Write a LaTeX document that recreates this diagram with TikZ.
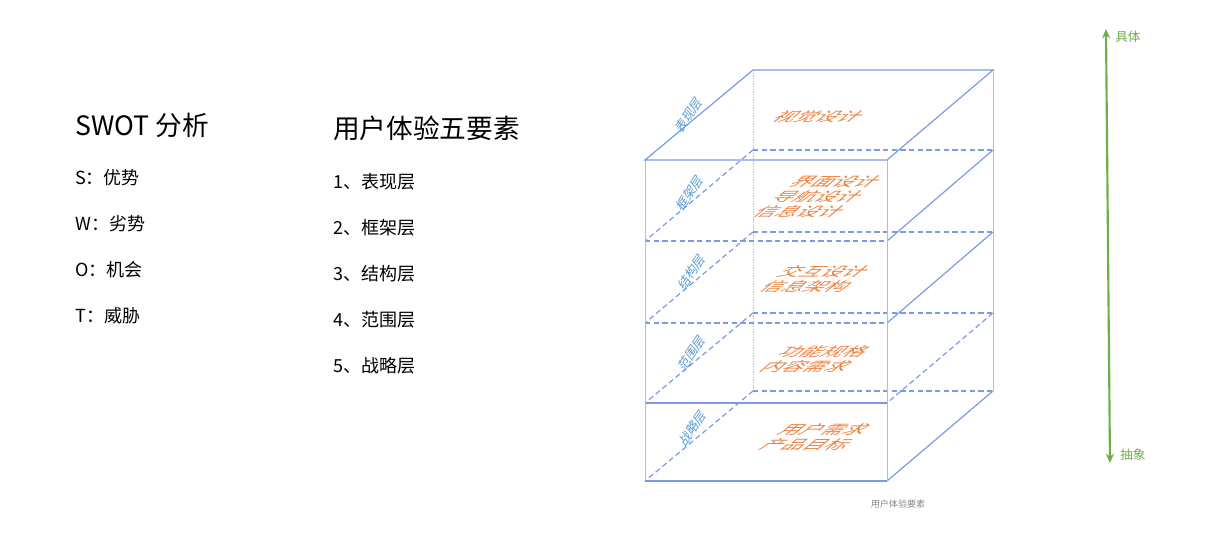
\documentclass[tikz,border=0pt]{standalone}
\usepackage{fontspec}
\setmainfont{Noto Sans CJK SC}
\usetikzlibrary{arrows.meta}
\definecolor{edgeblue}{HTML}{7C9AE6}
\definecolor{lightblue}{HTML}{A9BCF0}
\definecolor{labelblue}{HTML}{5B9BD5}
\definecolor{orangetxt}{HTML}{EE7D3B}
\definecolor{greenarr}{HTML}{70AD47}
\definecolor{capgray}{HTML}{8A8A8A}
\tikzset{
  title/.style={anchor=west, inner sep=0pt, font=\fontsize{20}{22}\selectfont},
  item/.style={anchor=west, inner sep=0pt, font=\fontsize{13.5}{16}\selectfont},
  solidedge/.style={draw=edgeblue, line width=0.9pt},
  vedge/.style={draw=lightblue, line width=0.7pt},
  dashedge/.style={draw=edgeblue, line width=0.9pt, dash pattern=on 4pt off 2.5pt},
  dotedge/.style={draw=lightblue, line width=0.6pt, dash pattern=on 1pt off 1pt},
  layerlabel/.style={text=labelblue, inner sep=0pt, rotate=56, xslant=0.25, font=\fontsize{9.5}{11}\selectfont},
  planetext/.style={text=orangetxt, inner sep=0pt, align=center, xslant=1.2, yscale=0.6, font=\fontsize{16}{18.75}\selectfont},
  sidelabel/.style={text=greenarr, inner sep=0pt, anchor=west, font=\fontsize{9.5}{11}\selectfont},
}
\begin{document}
\begin{tikzpicture}[x=0.75pt, y=-0.75pt]
\useasboundingbox (0,0) rectangle (1211,537);

% left texts
\node[title] (swot) at (75,125) {SWOT 分析};
\node[item] (s) at (75,178) {S：优势};
\node[item] (w) at (75,224) {W：劣势};
\node[item] (o) at (75,270) {O：机会};
\node[item] (t) at (75,316) {T：威胁};

\node[title] (ux) at (333,128) {用户体验五要素};
\node[item] (i1) at (333,182) {1、表现层};
\node[item] (i2) at (333,228) {2、框架层};
\node[item] (i3) at (333,274) {3、结构层};
\node[item] (i4) at (333,320) {4、范围层};
\node[item] (i5) at (333,366) {5、战略层};

% box coordinates
\foreach \k/\yf/\yb in {0/160/70, 1/241/150, 2/323/232, 3/403/313, 4/481/391} {
  \coordinate (FL\k) at (645,\yf);
  \coordinate (FR\k) at (887,\yf);
  \coordinate (BL\k) at (753,\yb);
  \coordinate (BR\k) at (993,\yb);
}

% back hidden edges
\draw[dotedge] (BL0) -- (BL4);
\foreach \k in {1,2,3,4} {
  \draw[dashedge] (BL\k) -- (BR\k);
  \draw[dashedge] (BL\k) -- (FL\k);
}
% front level lines
\draw[dashedge] (FL1) -- (FR1);
\draw[dashedge] (FL2) -- (FR2);
\draw[solidedge] (FL3) -- (FR3);
% right side diagonals
\draw[solidedge] (BR1) -- (FR1);
\draw[solidedge] (BR2) -- (FR2);
\draw[dashedge] (BR3) -- (FR3);
\draw[solidedge] (BR4) -- (FR4);
% verticals
\draw[vedge] (FL0) -- (FL4);
\draw[vedge] (FR0) -- (FR4);
\draw[vedge] (BR0) -- (BR4);
% bottom front
\draw[solidedge] (FL4) -- (FR4);
% top face
\draw[solidedge] (BL0) -- (BR0) -- (FR0) -- (FL0) -- cycle;

% layer labels
\node[layerlabel] (l1) at (689,115) {表现层};
\node[layerlabel] (l2) at (690,193) {框架层};
\node[layerlabel] (l3) at (692,272) {结构层};
\node[layerlabel] (l4) at (692,353) {范围层};
\node[layerlabel] (l5) at (693,428) {战略层};

% plane texts
\node[planetext] (p1) at (819,117) {视觉设计};
\node[planetext] (p2) at (818,197) {界面设计\\导航设计\\信息设计};
\node[planetext] (p3) at (815.5,279.5) {交互设计\\信息架构};
\node[planetext] (p4) at (815.5,359.5) {功能规格\\内容需求};
\node[planetext] (p5) at (815.5,437.5) {用户需求\\产品目标};

% caption
\node[text=capgray, inner sep=0pt, font=\fontsize{6.8}{8}\selectfont] (cap) at (898,504) {用户体验要素};

% green arrow
\coordinate (atop) at (1106,29);
\coordinate (abot) at (1110,463);
\draw[greenarr, line width=1.6pt, {Stealth[length=7pt,width=6pt]}-{Stealth[length=7pt,width=6pt]}] (atop) -- (abot);
\node[sidelabel] (concrete) at (1115,37) {具体};
\node[sidelabel] (abstract) at (1120,455) {抽象};
\end{tikzpicture}
\end{document}
